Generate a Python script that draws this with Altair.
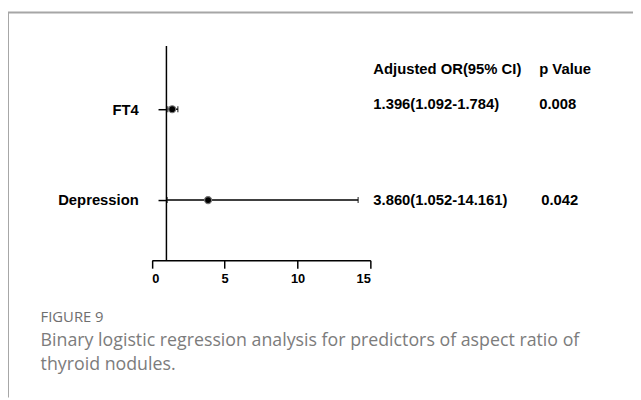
import altair as alt
import pandas as pd

# ---- data ----
labels = ["FT4", "Depression"]
or_vals = [1.396, 3.860]
ci_low = [1.092, 1.052]
ci_high = [1.784, 14.161]
or_text = ["1.396(1.092-1.784)", "3.860(1.052-14.161)"]
p_text = ["0.008", "0.042"]
x_ticks = [0, 5, 10, 15]
ref_line = [1]
header_or = "Adjusted OR(95% CI)"
header_p = "p Value"
fig_label = "FIGURE 9"
caption_lines = [
    "Binary logistic regression analysis for predictors of aspect ratio of",
    "thyroid nodules.",
]

df = pd.DataFrame({
    "label": labels,
    "or": or_vals,
    "low": ci_low,
    "high": ci_high,
    "or_text": or_text,
    "p_text": p_text,
})

W, H = 633, 392
FONT = "Liberation Sans"

xscale = alt.Scale(domain=[0, 15], range=[145.7, 367], nice=False, zero=False)
yscale = alt.Scale(type="point", domain=labels, range=[100, 192], padding=0)

xenc = alt.X(
    "low:Q", scale=xscale,
    axis=alt.Axis(
        values=x_ticks, title=None, grid=False, offset=-139,
        domainColor="black", domainWidth=1.5, tickColor="black", tickWidth=1.5,
        tickSize=8, labelFont=FONT, labelFontWeight="bold", labelFontSize=13,
        labelColor="black", labelPadding=5, format="d",
    ),
)
yenc = alt.Y(
    "label:N", scale=yscale,
    axis=alt.Axis(
        title=None, grid=False, domain=False, offset=-160.45,
        tickColor="black", tickWidth=1.5, tickSize=8.5,
        labelFont=FONT, labelFontWeight="bold", labelFontSize=15,
        labelColor="black", labelPadding=20,
    ),
)

base = alt.Chart(df)

ci = base.mark_rule(color="black", strokeWidth=1.5).encode(
    x=xenc, x2="high:Q", y=yenc,
)
caps_lo = base.mark_tick(color="black", thickness=1.3, size=6).encode(
    x=alt.X("low:Q", scale=xscale), y=alt.Y("label:N", scale=yscale),
)
caps_hi = base.mark_tick(color="black", thickness=1.3, size=6).encode(
    x=alt.X("high:Q", scale=xscale), y=alt.Y("label:N", scale=yscale),
)
pts = base.mark_point(filled=True, color="black", size=50, opacity=1,
                      stroke="#777777", strokeWidth=1.2).encode(
    x=alt.X("or:Q", scale=xscale), y=alt.Y("label:N", scale=yscale),
)

ref = alt.Chart(pd.DataFrame({"v": ref_line})).mark_rule(
    color="black", strokeWidth=1.5
).encode(
    x=alt.X("v:Q", scale=xscale), y=alt.value(36), y2=alt.value(253),
)

txt_kw = dict(font=FONT, fontWeight="bold", fontSize=15, color="black",
              align="left", baseline="middle")

or_col_ft4 = base.transform_filter(alt.datum.label == "FT4").mark_text(
    dy=-5, **txt_kw).encode(
    x=alt.value(370), y=alt.Y("label:N", scale=yscale), text="or_text:N")
p_col_ft4 = base.transform_filter(alt.datum.label == "FT4").mark_text(
    dy=-5, **txt_kw).encode(
    x=alt.value(538), y=alt.Y("label:N", scale=yscale), text="p_text:N")
or_col_dep = base.transform_filter(alt.datum.label != "FT4").mark_text(
    **txt_kw).encode(
    x=alt.value(370), y=alt.Y("label:N", scale=yscale), text="or_text:N")
p_col_dep = base.transform_filter(alt.datum.label != "FT4").mark_text(
    dx=2, **txt_kw).encode(
    x=alt.value(538), y=alt.Y("label:N", scale=yscale), text="p_text:N")

hdr = alt.Chart(pd.DataFrame({"t": [header_or, header_p], "xp": [370, 538]})).mark_text(
    **txt_kw).encode(
    x=alt.X("xp:Q", scale=None), y=alt.value(59), text="t:N")

fig = alt.Chart(pd.DataFrame({"t": [fig_label]})).mark_text(
    font="Open Sans", fontSize=15, color="#6f6f6f", align="left", baseline="middle"
).encode(x=alt.value(33), y=alt.value(311), text="t:N")

cap = alt.Chart(pd.DataFrame({"t": caption_lines, "yp": [335, 359]})).mark_text(
    font="Open Sans", fontSize=18, color="#7c7c7c", align="left", baseline="middle"
).encode(x=alt.value(33), y=alt.Y("yp:Q", scale=None), text="t:N")

frame_top = alt.Chart(pd.DataFrame({"a": [0]})).mark_rule(
    color="#a6a6a6", strokeWidth=2).encode(
    x=alt.value(0), x2=alt.value(W), y=alt.value(2))
frame_left = alt.Chart(pd.DataFrame({"a": [0]})).mark_rule(
    color="#a6a6a6", strokeWidth=2).encode(
    x=alt.value(0), y=alt.value(2), y2=alt.value(H))

chart = alt.layer(
    frame_top, frame_left, ref, ci, caps_lo, caps_hi, pts,
    or_col_ft4, p_col_ft4, or_col_dep, p_col_dep, hdr, fig, cap,
).properties(
    width=W, height=H, padding=0,
    autosize=alt.AutoSizeParams(type="none"),
    background="white",
).configure_view(stroke=None)

chart.save("out.html", embed_options={"renderer": "svg", "actions": False})
